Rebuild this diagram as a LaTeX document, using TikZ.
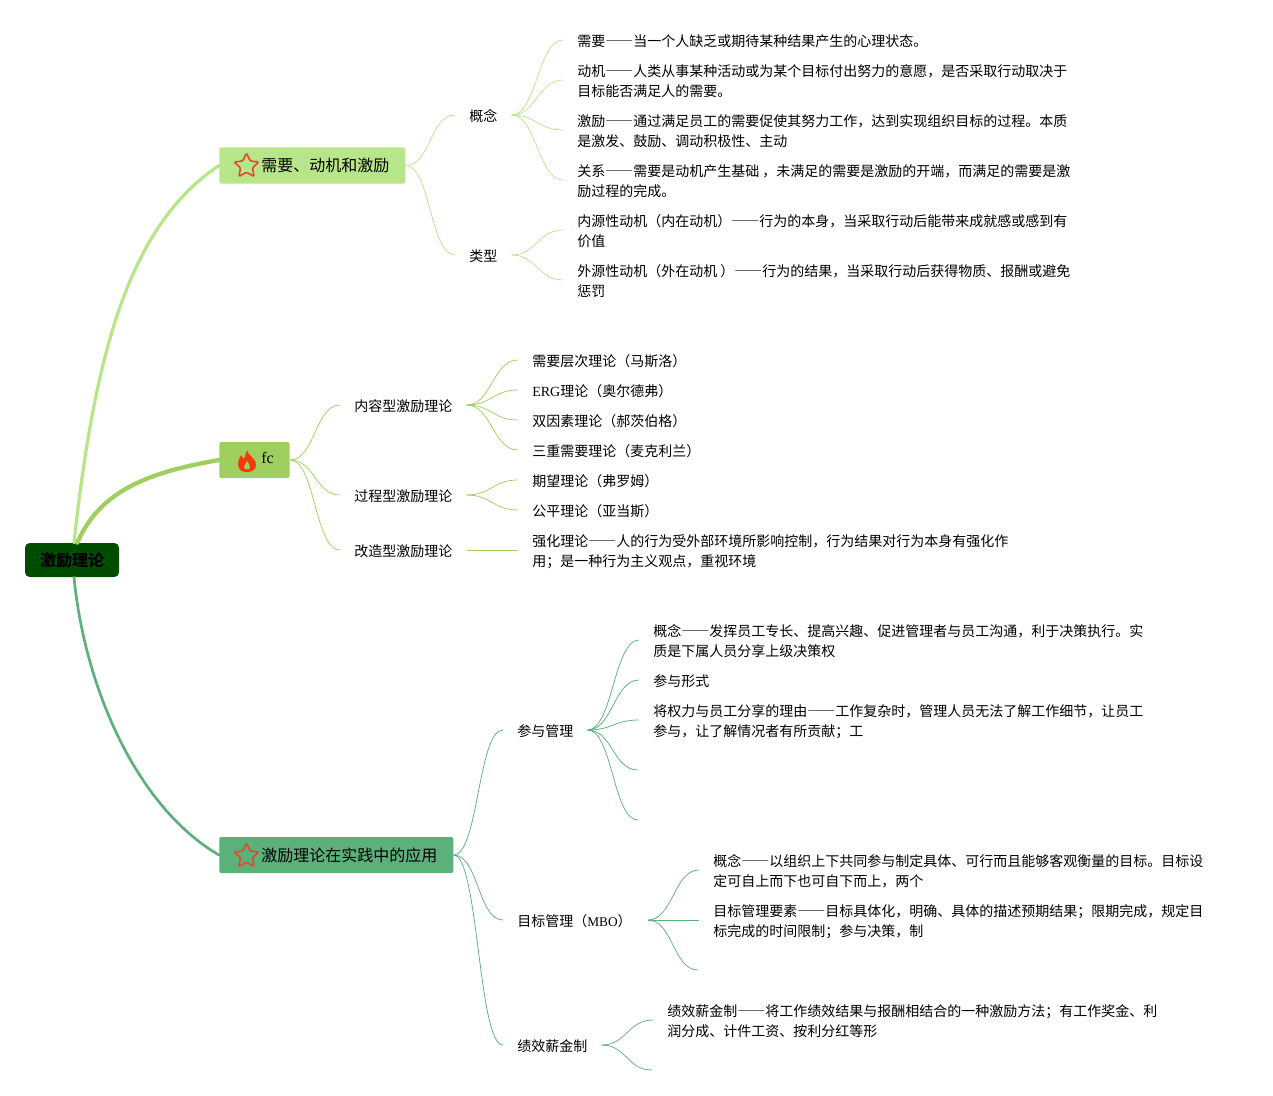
\documentclass[tikz,border=0pt]{standalone}
\usepackage{fontspec}
\usetikzlibrary{shapes.geometric}
\setmainfont[Script=CJK,Language=Chinese Simplified]{Noto Sans CJK SC}
\newfontfamily\latinfont{Liberation Serif}

\definecolor{rootgreen}{HTML}{004D00}
\definecolor{needgreen}{HTML}{B7E58A}
\definecolor{fcgreen}{HTML}{9FCF5E}
\definecolor{usegreen}{HTML}{5CB07A}
\definecolor{iconred}{HTML}{E2492B}
\definecolor{firered}{HTML}{F5390F}

\newcommand\itemstrut{\rule[-1.7pt]{0pt}{12.7pt}}
\newcommand\firstline{\rule{0pt}{11pt}}

\tikzset{
  rootbox/.style={fill=rootgreen,rounded corners=3.5pt,minimum width=70.5pt,minimum height=25.5pt,inner sep=0pt,
    font=\fontsize{12}{15}\selectfont\bfseries},
  branchbox/.style={anchor=west,rounded corners=1.5pt,inner xsep=12pt,inner ysep=0pt,minimum height=27pt,
    font=\fontsize{12}{15}\selectfont},
  item/.style={anchor=west,inner xsep=10.5pt,inner ysep=0pt,align=left,font=\fontsize{10.5}{15}\selectfont,
    execute at begin node=\itemstrut,execute at end node=\itemstrut},
  staricon/.style={star,star points=5,star point ratio=2.1,draw=iconred,line width=1.2pt,
    rounded corners=1pt,minimum size=19.5pt,inner sep=0pt},
  mainlink/.style={line cap=round},
  sublink/.style={line width=0.55pt,to path={.. controls +(25,0) and +(-25,0) .. (\tikztotarget)}},
}

\begin{document}
\begin{tikzpicture}[x=0.75pt,y=-0.75pt]
\useasboundingbox (0,0) rectangle (1273,1095);

\node[rootbox] (root) at (72,560) {激励理论};

\node[branchbox,fill=needgreen] (need) at (219,165.5) {\hspace*{19.5pt}需要、动机和激励};
\node[branchbox,fill=fcgreen] (fc) at (219,460) {\hspace*{19.5pt}\raisebox{3.5pt}{\latinfont fc}};
\node[branchbox,fill=usegreen] (use) at (219,855) {\hspace*{19.5pt}激励理论在实践中的应用};

\node[staricon] (needstar) at (246.5,166) {};
\node[staricon] (usestar) at (246.5,856) {};

% flame
\fill[firered] (247,450) .. controls (248,456) and (256,458) .. (256,465)
  .. controls (256,470) and (252,472) .. (247,472)
  .. controls (242,472) and (238,470) .. (238,464)
  .. controls (238,460) and (240,458) .. (241,455)
  .. controls (242,457) and (243,458) .. (244,459)
  .. controls (245,456) and (246,453) .. (247,450);
\fill[fcgreen] (247,461) .. controls (248,464) and (251,465) .. (250,468)
  .. controls (250,470) and (244,470) .. (244,467)
  .. controls (244,465) and (246,464) .. (247,461);

\draw[mainlink,needgreen,line width=2.4pt] ([xshift=1.5pt]root.north) .. controls (95,350) and (130,225) .. (need.west);
\draw[mainlink,fcgreen,line width=3.2pt] ([xshift=4pt]root.north) .. controls (100,490) and (150,472) .. (fc.west);
\draw[mainlink,usegreen,line width=2pt] ([xshift=1.5pt]root.south) .. controls (85,690) and (138,808) .. (use.west);

% first branch
\node[item] (concept) at (455,115) {概念};
\node[item] (kind) at (455,255) {类型};
\node[item] (a1) at (563,40) {需要——当一个人缺乏或期待某种结果产生的心理状态。};
\node[item] (a2) at (563,80) {\firstline 动机——人类从事某种活动或为某个目标付出努力的意愿，是否采取行动取决于\\目标能否满足人的需要。};
\node[item] (a3) at (563,130) {\firstline 激励——通过满足员工的需要促使其努力工作，达到实现组织目标的过程。本质\\是激发、鼓励、调动积极性、主动};
\node[item] (a4) at (563,180) {\firstline 关系——需要是动机产生基础 ，未满足的需要是激励的开端，而满足的需要是激\\励过程的完成。};
\node[item] (b1) at (563,230) {\firstline 内源性动机（内在动机）——行为的本身，当采取行动后能带来成就感或感到有\\价值};
\node[item] (b2) at (563,280) {\firstline 外源性动机（外在动机 ）——行为的结果，当采取行动后获得物质、报酬或避免\\惩罚};

\foreach \x in {concept,kind}
{
\draw[sublink,needgreen] (need.east) to (\x.west);
}
\foreach \x in {a1,a2,a3,a4}
{
\draw[sublink,needgreen] (concept.east) to (\x.west);
}
\foreach \x in {b1,b2}
{
\draw[sublink,needgreen] (kind.east) to (\x.west);
}

% second branch
\node[item] (content) at (340,405) {内容型激励理论};
\node[item] (process) at (340,495) {过程型激励理论};
\node[item] (reform) at (340,550) {改造型激励理论};
\node[item] (c1) at (518,360) {需要层次理论（马斯洛）};
\node[item] (c2) at (518,390) {{\latinfont ERG}理论（奥尔德弗）};
\node[item] (c3) at (518,420) {双因素理论（郝茨伯格）};
\node[item] (c4) at (518,450) {三重需要理论（麦克利兰）};
\node[item] (d1) at (518,480) {期望理论（弗罗姆）};
\node[item] (d2) at (518,510) {公平理论（亚当斯）};
\node[item] (e1) at (518,550) {\firstline 强化理论——人的行为受外部环境所影响控制，行为结果对行为本身有强化作\\用；是一种行为主义观点，重视环境};

\foreach \x in {content,process,reform}
{
\draw[sublink,fcgreen] (fc.east) to (\x.west);
}
\foreach \x in {c1,c2,c3,c4}
{
\draw[sublink,fcgreen] (content.east) to (\x.west);
}
\foreach \x in {d1,d2}
{
\draw[sublink,fcgreen] (process.east) to (\x.west);
}
\draw[sublink,fcgreen] (reform.east) -- (e1.west);

% third branch
\node[item] (join) at (503,730) {参与管理};
\node[item] (mbo) at (503,920) {目标管理（{\latinfont\fontsize{10}{15}\selectfont MBO}）\hspace{1.5pt}};
\node[item] (pay) at (503,1045) {绩效薪金制};
\node[item] (f1) at (639,640) {\firstline 概念——发挥员工专长、提高兴趣、促进管理者与员工沟通，利于决策执行。实\\质是下属人员分享上级决策权};
\node[item] (f2) at (639,680) {参与形式};
\node[item] (f3) at (639,720) {\firstline 将权力与员工分享的理由——工作复杂时，管理人员无法了解工作细节，让员工\\参与，让了解情况者有所贡献；工};
\coordinate (f4) at (638,770);
\coordinate (f5) at (638,820);
\node[item] (g1) at (699,870) {\firstline 概念——以组织上下共同参与制定具体、可行而且能够客观衡量的目标。目标设\\定可自上而下也可自下而上，两个};
\node[item] (g2) at (699,920) {\firstline 目标管理要素——目标具体化，明确、具体的描述预期结果；限期完成，规定目\\标完成的时间限制；参与决策，制};
\coordinate (g3) at (698,970);
\node[item] (h1) at (653,1020) {\firstline 绩效薪金制——将工作绩效结果与报酬相结合的一种激励方法；有工作奖金、利\\润分成、计件工资、按利分红等形};
\coordinate (h2) at (652,1070);

\foreach \x in {join,mbo,pay}
{
\draw[sublink,usegreen] (use.east) to (\x.west);
}
\foreach \x in {f1.west,f2.west,f3.west,f4,f5}
{
\draw[sublink,usegreen] (join.east) to (\x);
}
\foreach \x in {g1.west,g2.west,g3}
{
\draw[sublink,usegreen] (mbo.east) to (\x);
}
\foreach \x in {h1.west,h2}
{
\draw[sublink,usegreen] (pay.east) to (\x);
}
\end{tikzpicture}
\end{document}
